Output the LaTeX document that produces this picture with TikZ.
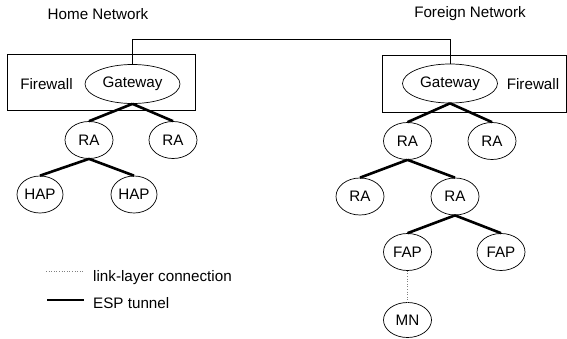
\documentclass[tikz,border=0pt]{standalone}
\usepackage{fontspec}
\setmainfont{Liberation Sans}
\usetikzlibrary{shapes.geometric}
\begin{document}
\begin{tikzpicture}[x=1pt,y=-1pt,
  every node/.style={font=\fontsize{15.2}{18}\selectfont},
  nd/.style={draw,ellipse,line width=0.7pt,inner sep=0pt,minimum width=48pt,minimum height=37pt},
  gw/.style={nd,minimum width=95pt,minimum height=39pt},
  fwbox/.style={draw,line width=0.7pt},
  esp/.style={line width=2.6pt},
  link/.style={gray,dotted,line width=0.6pt},
  wire/.style={line width=0.7pt}]
\useasboundingbox (0,0) rectangle (567,339);
% labels
\node (homelbl) at (98,14) {Home Network};
\node (forlbl) at (470,14) {Foreign Network};
% firewall boxes
\draw[fwbox] (7,54) rectangle (195,110);
\draw[fwbox] (382,55) rectangle (566,112);
\node (hfw) at (46.5,84) {Firewall};
\node (ffw) at (533,84) {Firewall};
% gateways
\node[gw] (hg) at (132.5,84) {Gateway};
\node[gw] (fg) at (450,83.5) {Gateway};
\coordinate (top) at (300,39);
\draw[wire] (hg.north) -- (hg.north |- top) -| (fg.north);
% home tree
\node[nd] (hra1) at (89,140) {RA};
\node[nd] (hra2) at (173,140) {RA};
\node[nd,minimum width=46pt] (hap1) at (40,194.5) {HAP};
\node[nd,minimum width=46pt] (hap2) at (134,194.5) {HAP};
% foreign tree
\node[nd] (fra1) at (407.5,141) {RA};
\node[nd] (fra2) at (492,141) {RA};
\node[nd] (fra3) at (360,196.5) {RA};
\node[nd] (fra4) at (455,196.5) {RA};
\node[nd] (fap1) at (407.5,252) {FAP};
\node[nd] (fap2) at (501,252) {FAP};
\node[nd,minimum height=35pt] (mn) at (407.5,320) {MN};
% ESP tunnels
\draw[esp] (hg.south) -- (hra1.north);
\draw[esp] (hg.south) -- (hra2.north);
\draw[esp] (hra1.south) -- (hap1.north);
\draw[esp] (hra1.south) -- (hap2.north);
\draw[esp] (fg.south) -- (fra1.north);
\draw[esp] (fg.south) -- (fra2.north);
\draw[esp] (fra1.south) -- (fra3.north);
\draw[esp] (fra1.south) -- (fra4.north);
\draw[esp] (fra4.south) -- (fap1.north);
\draw[esp] (fra4.south) -- (fap2.north);
% link layer
\draw[link] (fap1.south) -- (mn.north);
% legend
\coordinate (l1a) at (46,271);
\coordinate (l1b) at (83,271);
\draw[link] (l1a) -- (l1b);
\node[anchor=base west,inner sep=0pt] (l1t) at (93,281) {link-layer connection};
\coordinate (l2a) at (47,300);
\coordinate (l2b) at (84,300);
\draw[esp] (l2a) -- (l2b);
\node[anchor=base west,inner sep=0pt] (l2t) at (93,308) {ESP tunnel};
\end{tikzpicture}
\end{document}
